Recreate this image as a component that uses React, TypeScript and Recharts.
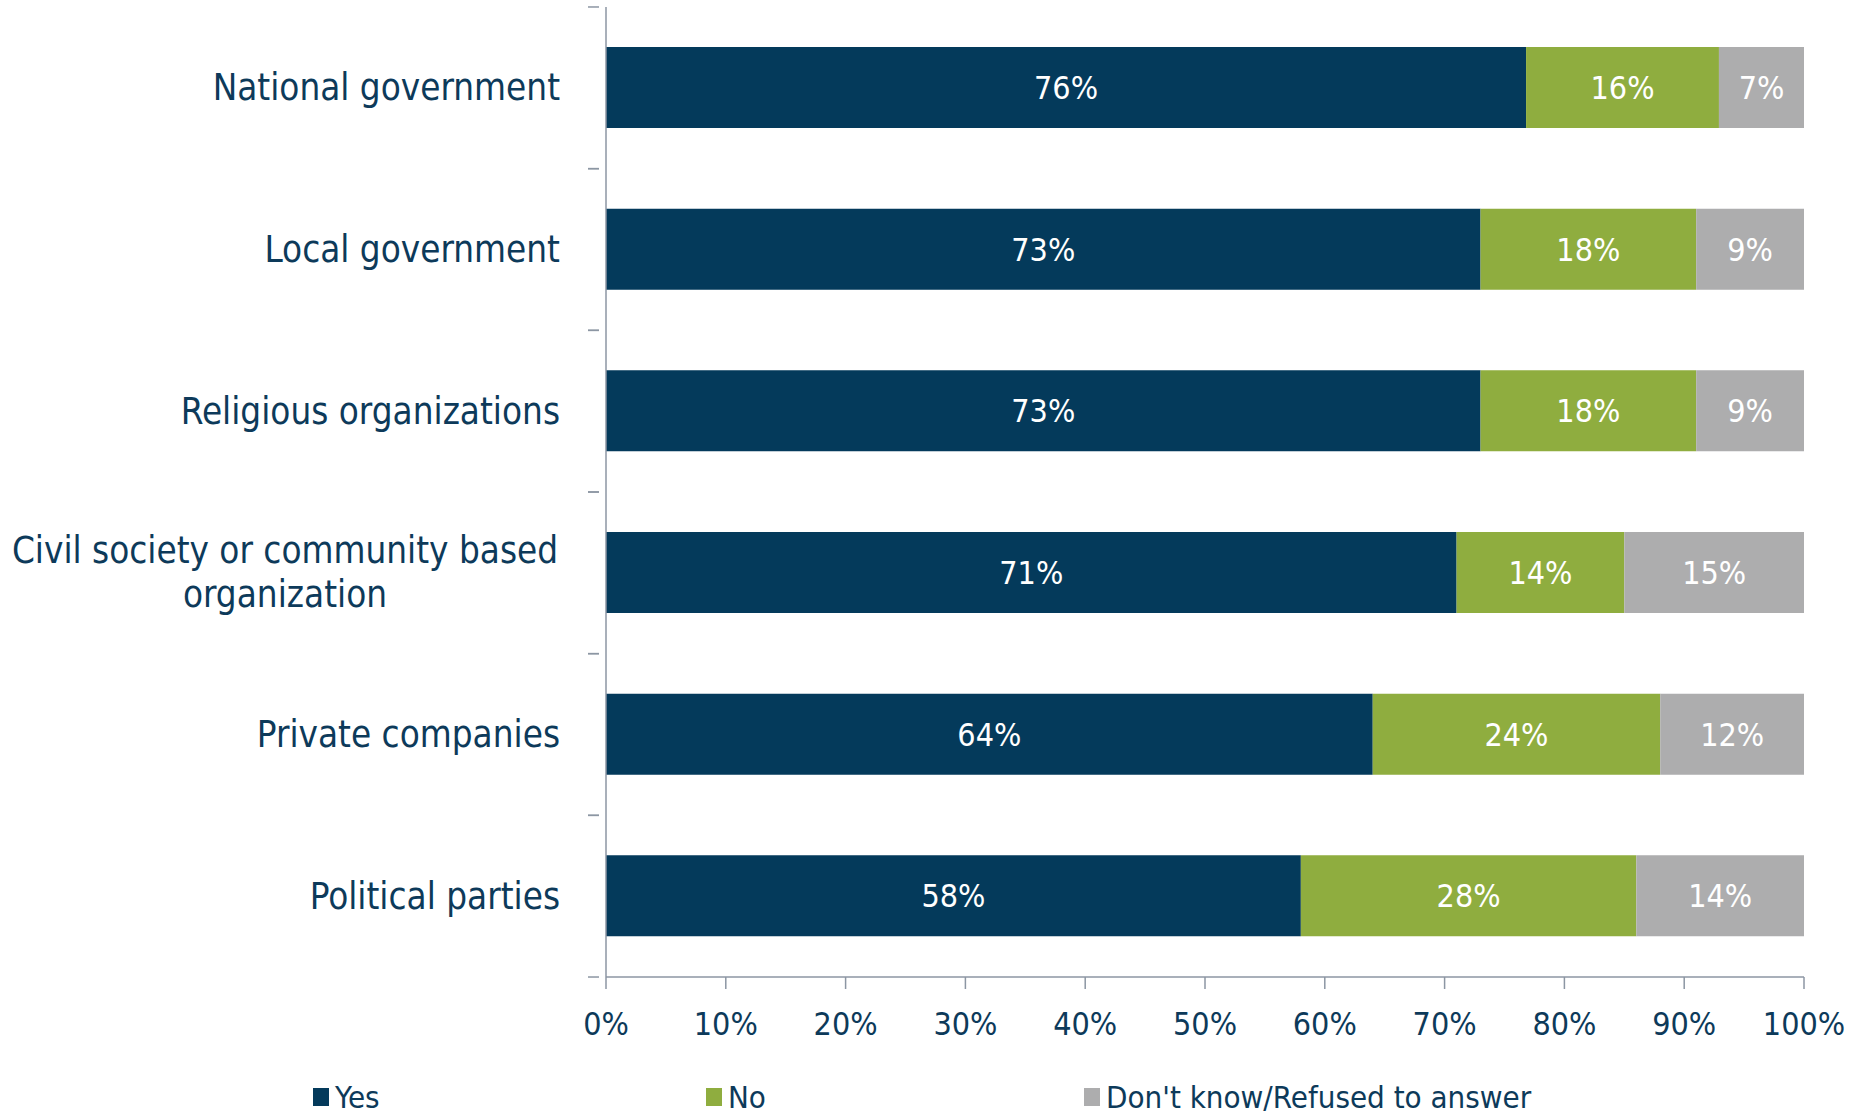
import React from "react";
import { BarChart, Bar, XAxis, YAxis, Legend, LabelList } from "recharts";

const categories = [
  "National government",
  "Local government",
  "Religious organizations",
  "Civil society or community based\norganization",
  "Private companies",
  "Political parties",
];

// bar lengths as drawn (the first row's segments are not whole numbers)
const yesValues = [76.8, 73, 73, 71, 64, 58];
const noValues = [16.1, 18, 18, 14, 24, 28];
const dkValues = [7.1, 9, 9, 15, 12, 14];

// percentages printed on the bars
const yesLabels = ["76%", "73%", "73%", "71%", "64%", "58%"];
const noLabels = ["16%", "18%", "18%", "14%", "24%", "28%"];
const dkLabels = ["7%", "9%", "9%", "15%", "12%", "14%"];

const xTicks = [0, 10, 20, 30, 40, 50, 60, 70, 80, 90, 100];

const seriesNames = ["Yes", "No", "Don't know/Refused to answer"];
const colors = ["#043a5b", "#8fad3f", "#adadae"];
const legendWidths = [393, 378, 500];

const FONT = '"DejaVu Sans Condensed", "DejaVu Sans", sans-serif';
const TEXT = "#0d3a5a";
const AXIS = "#8c96a3";
const BAND = 161.7;

const data = categories.map((name, i) => ({
  name,
  yes: yesValues[i],
  no: noValues[i],
  dk: dkValues[i],
  yesLabel: yesLabels[i],
  noLabel: noLabels[i],
  dkLabel: dkLabels[i],
}));

// category label plus a short tick line at the band edges
function CategoryTick(props: any) {
  const { x, y, payload } = props;
  const lines = String(payload.value).split("\n");
  const half = BAND / 2;
  return (
    <g>
      <line x1={x + 1} x2={x - 10} y1={y - half} y2={y - half} stroke={AXIS} strokeWidth={1.5} />
      <line x1={x + 1} x2={x - 10} y1={y + half} y2={y + half} stroke={AXIS} strokeWidth={1.5} />
      {lines.length === 1 ? (
        <text x={x - 38} y={y} textAnchor="end" dominantBaseline="central" fill={TEXT} fontSize={36.5} fontFamily={FONT}>
          {lines[0]}
        </text>
      ) : (
        lines.map((l, k) => (
          <text
            key={k}
            x={x - 313}
            y={y + (k - (lines.length - 1) / 2) * 44}
            textAnchor="middle"
            dominantBaseline="central"
            fill={TEXT}
            fontSize={36.5}
            fontFamily={FONT}
          >
            {l}
          </text>
        ))
      )}
    </g>
  );
}

function LegendContent() {
  return (
    <div
      style={{
        display: "flex",
        boxSizing: "border-box",
        paddingLeft: 313,
        height: 34,
        alignItems: "center",
        fontFamily: FONT,
      }}
    >
      {seriesNames.map((n, i) => (
        <div
          key={n}
          style={{ width: legendWidths[i], flexShrink: 0, display: "flex", alignItems: "center", whiteSpace: "nowrap" }}
        >
          <span
            style={{ display: "inline-block", flexShrink: 0, width: 16, height: 18, background: colors[i], marginRight: 6 }}
          />
          <span style={{ fontSize: 31, lineHeight: "34px", color: TEXT }}>{n}</span>
        </div>
      ))}
    </div>
  );
}

export default function App() {
  const labelStyle = { fill: "#ffffff", fontSize: 32, fontFamily: FONT };
  return (
    <div style={{ position: "absolute", left: 0, top: 0, width: 1864, height: 1114, background: "#fff" }}>
      <BarChart
        width={1864}
        height={1114}
        data={data}
        layout="vertical"
        barSize={81}
        margin={{ top: 7, right: 60, left: 0, bottom: 0 }}
      >
        <XAxis
          type="number"
          domain={[0, 100]}
          ticks={xTicks}
          tickFormatter={(v: number) => `${v}%`}
          height={103}
          axisLine={{ stroke: AXIS, strokeWidth: 1.5 }}
          tickLine={{ stroke: AXIS, strokeWidth: 1.5 }}
          tickSize={12}
          tickMargin={23}
          tick={{ fill: TEXT, fontSize: 32, fontFamily: FONT }}
          interval={0}
        />
        <YAxis
          type="category"
          dataKey="name"
          width={606}
          axisLine={{ stroke: AXIS, strokeWidth: 1.5 }}
          tickLine={false}
          tick={<CategoryTick />}
          interval={0}
        />
        <Legend verticalAlign="bottom" wrapperStyle={{ left: 0, width: 1864 }} content={<LegendContent />} />
        <Bar dataKey="yes" stackId="a" fill={colors[0]} isAnimationActive={false}>
          <LabelList dataKey="yesLabel" position="center" style={labelStyle} />
        </Bar>
        <Bar dataKey="no" stackId="a" fill={colors[1]} isAnimationActive={false}>
          <LabelList dataKey="noLabel" position="center" style={labelStyle} />
        </Bar>
        <Bar dataKey="dk" stackId="a" fill={colors[2]} isAnimationActive={false}>
          <LabelList dataKey="dkLabel" position="center" style={labelStyle} />
        </Bar>
      </BarChart>
    </div>
  );
}
